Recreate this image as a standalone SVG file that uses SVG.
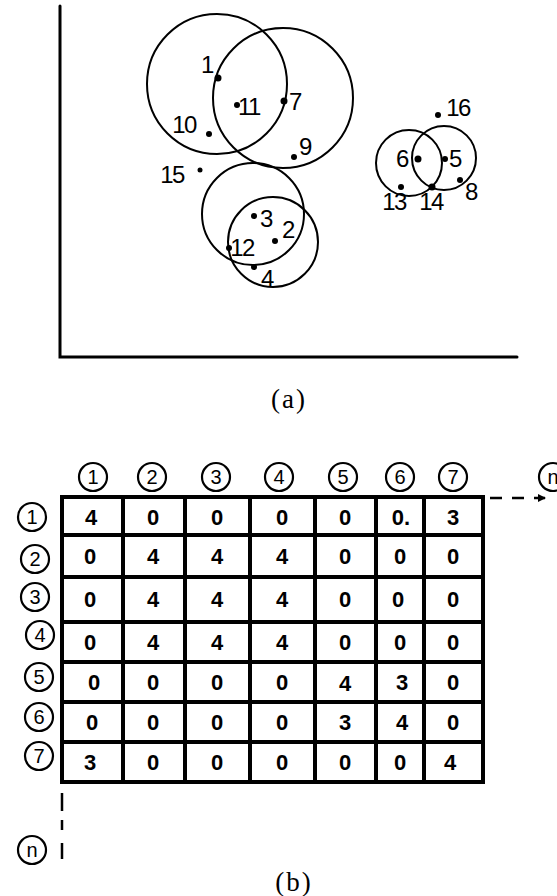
<svg xmlns="http://www.w3.org/2000/svg" width="557" height="896" viewBox="0 0 557 896">
<style>
.ax{stroke:#000;stroke-width:3;fill:none;stroke-linecap:round}
.cl{stroke:#000;stroke-width:2;fill:none}
.dot{fill:#000}
.lb{font-family:"Liberation Sans",Arial,sans-serif;font-size:24px;letter-spacing:-1.5px;fill:#000;text-anchor:middle}
.cap{font-family:"Liberation Serif","Times New Roman",serif;font-size:27px;letter-spacing:2px;fill:#000;text-anchor:middle}
.grid{stroke:#000;stroke-width:4;fill:none;stroke-linecap:square}
.cv{font-family:"Liberation Sans",Arial,sans-serif;font-size:22px;font-weight:bold;fill:#000;text-anchor:middle}
.cc{stroke:#000;stroke-width:2.2;fill:none}
.ct{font-family:"Liberation Sans",Arial,sans-serif;font-size:20px;fill:#000;text-anchor:middle;dominant-baseline:central}
.dash{stroke:#000;stroke-width:2.5;fill:none}
</style>
<defs>
<marker id="ah" markerWidth="8" markerHeight="8" refX="7" refY="4" orient="auto" markerUnits="userSpaceOnUse">
<path d="M0,0 L8,4 L0,8 Z" fill="#000"/>
</marker>
</defs>

<g id="plot-a">
<g id="axes">
<path class="ax" d="M60,6 L60,357 L517,357"/>
</g>
<g id="circles">
<circle class="cl" cx="217" cy="84" r="70"/>
<circle class="cl" cx="283" cy="98" r="70"/>
<circle class="cl" cx="253" cy="214" r="51"/>
<circle class="cl" cx="273" cy="242" r="45"/>
<circle class="cl" cx="409" cy="163" r="33"/>
<circle class="cl" cx="444" cy="158" r="32"/>
</g>
<g id="p1"><circle class="dot" cx="218" cy="78" r="3.5"/><text class="lb" x="207" y="73">1</text></g>
<g id="p11"><circle class="dot" cx="237" cy="105" r="3"/><text class="lb" x="249" y="115">11</text></g>
<g id="p7"><circle class="dot" cx="284" cy="101" r="3.5"/><text class="lb" x="295" y="110">7</text></g>
<g id="p10"><circle class="dot" cx="209" cy="134" r="3"/><text class="lb" x="184" y="133">10</text></g>
<g id="p9"><circle class="dot" cx="294" cy="157" r="3"/><text class="lb" x="305" y="155">9</text></g>
<g id="p15"><circle class="dot" cx="200" cy="170" r="2.5"/><text class="lb" x="172" y="183">15</text></g>
<g id="p3"><circle class="dot" cx="254" cy="216" r="3"/><text class="lb" x="266" y="227">3</text></g>
<g id="p2"><circle class="dot" cx="275" cy="241" r="3"/><text class="lb" x="288" y="238">2</text></g>
<g id="p12"><circle class="dot" cx="229" cy="248" r="3"/><text class="lb" x="242" y="256">12</text></g>
<g id="p4"><circle class="dot" cx="254" cy="267" r="3"/><text class="lb" x="267" y="287">4</text></g>
<g id="p16"><circle class="dot" cx="438" cy="115" r="3"/><text class="lb" x="458" y="116">16</text></g>
<g id="p6"><circle class="dot" cx="418" cy="159" r="3.5"/><text class="lb" x="402" y="167">6</text></g>
<g id="p5"><circle class="dot" cx="445" cy="159" r="3"/><text class="lb" x="455" y="167">5</text></g>
<g id="p13"><circle class="dot" cx="401" cy="187" r="3"/><text class="lb" x="394" y="210">13</text></g>
<g id="p14"><circle class="dot" cx="432" cy="187" r="3.5"/><text class="lb" x="431" y="210">14</text></g>
<g id="p8"><circle class="dot" cx="460" cy="180" r="3"/><text class="lb" x="471" y="200">8</text></g>
<text id="cap-a" class="cap" x="289" y="408">(a)</text>
</g>

<g id="matrix-b">
<g id="grid">
<rect class="grid" x="62" y="497" width="421" height="285"/>
<path class="grid" d="M123,497V782M185,497V782M250,497V782M315,497V782M376,497V782M424,497V782"/>
<path class="grid" d="M62,535H483M62,577H483M62,622H483M62,662H483M62,702H483M62,742H483"/>
</g>
<g id="col-headers">
<circle class="cc" cx="93" cy="477" r="14"/><text class="ct" x="93" y="477">1</text>
<circle class="cc" cx="152" cy="477" r="14"/><text class="ct" x="152" y="477">2</text>
<circle class="cc" cx="216" cy="477" r="14"/><text class="ct" x="216" y="477">3</text>
<circle class="cc" cx="279" cy="477" r="14"/><text class="ct" x="279" y="477">4</text>
<circle class="cc" cx="343" cy="477" r="14"/><text class="ct" x="343" y="477">5</text>
<circle class="cc" cx="400" cy="477" r="14"/><text class="ct" x="400" y="477">6</text>
<circle class="cc" cx="453" cy="477" r="14"/><text class="ct" x="453" y="477">7</text>
<circle class="cc" cx="553" cy="477" r="14"/><text class="ct" x="553" y="477">n</text>
</g>
<g id="row-headers">
<circle class="cc" cx="32" cy="517" r="14"/><text class="ct" x="32" y="517">1</text>
<circle class="cc" cx="35" cy="559" r="14"/><text class="ct" x="35" y="559">2</text>
<circle class="cc" cx="35" cy="597" r="14"/><text class="ct" x="35" y="597">3</text>
<circle class="cc" cx="40" cy="635" r="14"/><text class="ct" x="40" y="635">4</text>
<circle class="cc" cx="39" cy="677" r="14"/><text class="ct" x="39" y="677">5</text>
<circle class="cc" cx="39" cy="717" r="14"/><text class="ct" x="39" y="717">6</text>
<circle class="cc" cx="39" cy="756" r="14"/><text class="ct" x="39" y="756">7</text>
<circle class="cc" cx="32" cy="850" r="14"/><text class="ct" x="32" y="850">n</text>
</g>
<g id="cells">
<text class="cv" x="91" y="525">4</text><text class="cv" x="153" y="525">0</text><text class="cv" x="217" y="525">0</text><text class="cv" x="282" y="525">0</text><text class="cv" x="345" y="525">0</text><text class="cv" x="401" y="525">0.</text><text class="cv" x="453" y="525">3</text>
<text class="cv" x="90" y="564">0</text><text class="cv" x="153" y="564">4</text><text class="cv" x="217" y="564">4</text><text class="cv" x="282" y="564">4</text><text class="cv" x="345" y="564">0</text><text class="cv" x="400" y="564">0</text><text class="cv" x="453" y="564">0</text>
<text class="cv" x="90" y="607">0</text><text class="cv" x="153" y="607">4</text><text class="cv" x="217" y="607">4</text><text class="cv" x="282" y="607">4</text><text class="cv" x="345" y="607">0</text><text class="cv" x="398" y="607">0</text><text class="cv" x="453" y="607">0</text>
<text class="cv" x="90" y="650">0</text><text class="cv" x="153" y="650">4</text><text class="cv" x="217" y="650">4</text><text class="cv" x="282" y="650">4</text><text class="cv" x="345" y="650">0</text><text class="cv" x="400" y="650">0</text><text class="cv" x="453" y="650">0</text>
<text class="cv" x="94" y="690">0</text><text class="cv" x="153" y="690">0</text><text class="cv" x="217" y="690">0</text><text class="cv" x="282" y="690">0</text><text class="cv" x="345" y="691">4</text><text class="cv" x="402" y="690">3</text><text class="cv" x="453" y="690">0</text>
<text class="cv" x="92" y="730">0</text><text class="cv" x="153" y="730">0</text><text class="cv" x="217" y="730">0</text><text class="cv" x="282" y="730">0</text><text class="cv" x="345" y="730">3</text><text class="cv" x="402" y="730">4</text><text class="cv" x="453" y="730">0</text>
<text class="cv" x="90" y="770">3</text><text class="cv" x="153" y="770">0</text><text class="cv" x="217" y="770">0</text><text class="cv" x="282" y="770">0</text><text class="cv" x="345" y="770">0</text><text class="cv" x="400" y="770">0</text><text class="cv" x="450" y="770">4</text>
</g>
<g id="connectors">
<path class="dash" d="M490,498H545" stroke-dasharray="12 10" marker-end="url(#ah)"/>
<path class="dash" d="M62,793V859" stroke-dasharray="18 9 10 13 16"/>
</g>
<text id="cap-b" class="cap" x="294" y="891">(b)</text>
</g>
</svg>
